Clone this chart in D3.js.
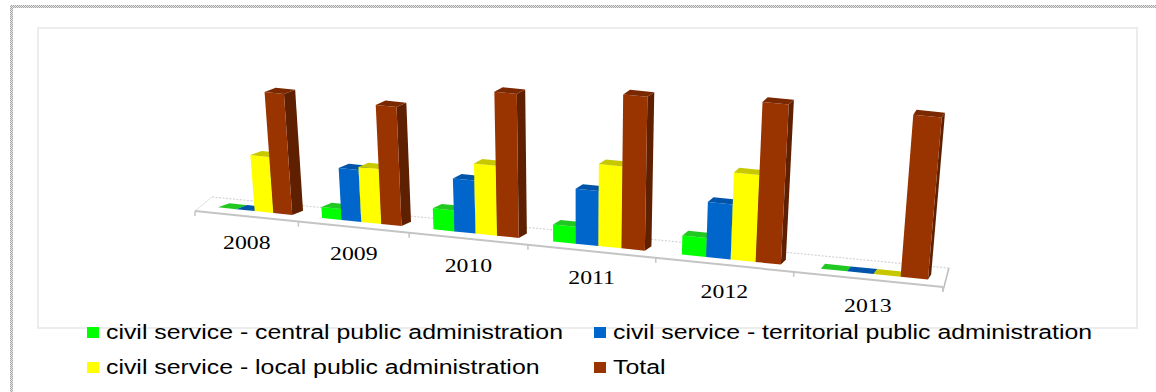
<!DOCTYPE html>
<html>
<head>
<meta charset="utf-8">
<script src="https://cdn.jsdelivr.net/npm/d3@7"></script>
<style>
  body { margin: 0; background: #fff; }
  svg { display: block; }
</style>
</head>
<body>
<svg id="chart" width="1156" height="392"></svg>
<script>
// data (arbitrary units)
const years = ["2008", "2009", "2010", "2011", "2012", "2013"];
const seriesNames = [
    "civil service - central public administration",
    "civil service - territorial public administration",
    "civil service - local public administration",
    "Total"
];
const central = [0, 10.5, 19.4, 15.2, 16.3, 0];
const territorial = [0, 49.5, 48.7, 48.8, 47, 0];
const local = [54.9, 52.1, 64, 72.2, 73.8, 0];
const total = [117.8, 112, 130.7, 134.7, 134.7, 131];

const seriesValues = [central, territorial, local, total];
const colors = [
    { front: "#00ff00", side: "#00b400", top: "#22c822" },
    { front: "#0066cc", side: "#004c99", top: "#0055aa" },
    { front: "#ffff00", side: "#b4b400", top: "#c8c800" },
    { front: "#993300", side: "#5e2000", top: "#7a2800" }
];

const svg = d3.select("#chart");
const width = +svg.attr("width");
const height = +svg.attr("height");

svg.append("rect").attr("width", width).attr("height", height).attr("fill", "#fff");

// checker border of the outer frame
const defs = svg.append("defs");
const pat = defs.append("pattern")
    .attr("id", "checker")
    .attr("width", 2).attr("height", 2)
    .attr("patternUnits", "userSpaceOnUse");
pat.append("rect").attr("width", 2).attr("height", 2).attr("fill", "#e6e6e6");
pat.append("rect").attr("width", 1).attr("height", 1).attr("fill", "#a8a8a8");
pat.append("rect").attr("x", 1).attr("y", 1).attr("width", 1).attr("height", 1).attr("fill", "#a8a8a8");

svg.append("rect").attr("x", 10).attr("y", 5).attr("width", width - 10).attr("height", 3).attr("fill", "url(#checker)");
svg.append("rect").attr("x", 10).attr("y", 5).attr("width", 3).attr("height", height - 5).attr("fill", "url(#checker)");

// inner chart box
svg.append("rect")
    .attr("x", 38).attr("y", 28)
    .attr("width", 1099).attr("height", 300)
    .attr("fill", "#fff")
    .attr("stroke", "#ececec")
    .attr("stroke-width", 2);

// perspective along the category axis
const pa = 93.6, pc = -0.03293, x0 = 195;
const tToX = t => (pa * t + x0) / (pc * t + 1);
const hScale = t => 1 / (pc * t + 1);
const xEnd = tToX(6);
const frontY = x => 211 + 0.1017 * (x - x0);
const lerp = (a, b, x) => a + (b - a) * Math.max(0, Math.min(1, (x - x0) / (xEnd - x0)));

const xBand = d3.scaleBand().domain(years).range([0, 6]);
const inner = d3.scaleBand().domain(d3.range(seriesNames.length)).range([0.17, 0.89]);
const vScale = d3.scaleLinear().domain([0, 140]).range([0, 140]);

const kLean = 0.00024, leanX = 575;
const topPt = (p, h) => [p[0] + h * kLean * (p[0] - leanX), p[1] - h];

// floor
const floor = svg.append("g");
const backPt = t => {
    const x = tToX(t);
    return [x + lerp(17, 6, x), frontY(x) - lerp(14, 19, x)];
};
floor.append("line")
    .attr("x1", backPt(0)[0]).attr("y1", backPt(0)[1])
    .attr("x2", backPt(6)[0]).attr("y2", backPt(6)[1])
    .attr("stroke", "#d4d4d4").attr("stroke-width", 1.2)
    .attr("stroke-dasharray", "2 1.5");
floor.append("line")
    .attr("x1", x0).attr("y1", frontY(x0))
    .attr("x2", backPt(0)[0]).attr("y2", backPt(0)[1])
    .attr("stroke", "#e2e2e2").attr("stroke-width", 1);
floor.append("line")
    .attr("x1", xEnd).attr("y1", frontY(xEnd) + 4)
    .attr("x2", backPt(6)[0]).attr("y2", backPt(6)[1])
    .attr("stroke", "#bcbcbc").attr("stroke-width", 1.5);
floor.append("line")
    .attr("x1", x0).attr("y1", frontY(x0))
    .attr("x2", xEnd).attr("y2", frontY(xEnd))
    .attr("stroke", "#c4c4c4").attr("stroke-width", 2);
floor.selectAll(".tick")
    .data(d3.range(7))
    .join("line")
    .attr("class", "tick")
    .attr("x1", d => tToX(d)).attr("y1", d => frontY(tToX(d)))
    .attr("x2", d => tToX(d)).attr("y2", d => frontY(tToX(d)) + 5)
    .attr("stroke", "#c4c4c4").attr("stroke-width", 1.5);

// bars
const bars = [];
years.forEach((yr, i) => {
    seriesValues.forEach((vals, j) => {
        const t0 = xBand(yr) + inner(j);
        const t1 = t0 + inner.bandwidth();
        const xa = tToX(t0), xb = tToX(t1);
        const xl = xa + lerp(6, 2, xa), xr = xb + lerp(6, 2, xb);
        const h = vScale(vals[i]) * hScale((t0 + t1) / 2);
        const dx = lerp(12, 3, xr), dy = lerp(-4, -5, xr);
        const BLf = [xl, frontY(xl) - 6], BRf = [xr, frontY(xr) - 6];
        const BRb = [xr + dx, BRf[1] + dy], BLb = [xl + dx, BLf[1] + dy];
        bars.push({
            c: colors[j],
            side: [BRf, BRb, topPt(BRb, h), topPt(BRf, h)],
            front: [BLf, BRf, topPt(BRf, h), topPt(BLf, h)],
            topF: [topPt(BLf, h), topPt(BRf, h), topPt(BRb, h), topPt(BLb, h)]
        });
    });
});

const barG = svg.append("g");
const line = d3.line();
bars.forEach(b => {
    const g = barG.append("g");
    g.append("path").attr("d", line(b.side) + "Z").attr("fill", b.c.side);
    g.append("path").attr("d", line(b.front) + "Z").attr("fill", b.c.front);
    g.append("path").attr("d", line(b.topF) + "Z").attr("fill", b.c.top);
});

// category labels
svg.append("g")
    .selectAll("text")
    .data(years)
    .join("text")
    .attr("x", d => tToX(xBand(d) + 0.5) + 1)
    .attr("y", d => frontY(tToX(xBand(d) + 0.5)) + 33)
    .attr("text-anchor", "middle")
    .attr("font-family", "Liberation Serif, Times New Roman, serif")
    .attr("font-size", 19.5)
    .attr("fill", "#000")
    .text(d => d)
    .each(function () {
        const w = this.getComputedTextLength();
        d3.select(this).attr("textLength", w * 1.22).attr("lengthAdjust", "spacingAndGlyphs");
    });

// legend
const legendPos = [
    { x: 87, y: 327 },
    { x: 594, y: 327 },
    { x: 87, y: 362 },
    { x: 594, y: 362 }
];
const legend = svg.append("g");
const items = legend.selectAll("g")
    .data(seriesNames)
    .join("g")
    .attr("transform", (d, i) => "translate(" + legendPos[i].x + "," + legendPos[i].y + ")");
items.append("rect")
    .attr("width", 12).attr("height", 11)
    .attr("fill", (d, i) => colors[i].front);
items.append("text")
    .attr("x", 19).attr("y", 12)
    .attr("font-family", "Liberation Sans, Arial, sans-serif")
    .attr("font-size", 19.5)
    .attr("fill", "#000")
    .text(d => d);
const stretch = 457 / items.select("text").node().getComputedTextLength();
items.select("text").each(function () {
    const w = this.getComputedTextLength();
    d3.select(this).attr("textLength", w * stretch).attr("lengthAdjust", "spacingAndGlyphs");
});
</script>
</body>
</html>
